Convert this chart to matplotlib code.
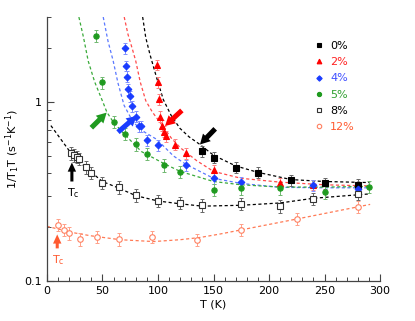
import matplotlib
matplotlib.use("Agg")
import matplotlib.pyplot as plt
from matplotlib.lines import Line2D
from matplotlib.ticker import FixedLocator, NullFormatter, FixedFormatter

plt.rcParams['font.family'] = ['DejaVu Sans']
plt.rcParams['mathtext.default'] = 'regular'

# ---------------- data ----------------
labels = ["0%", "2%", "4%", "5%", "8%", "12%"]

T0 = [140, 150, 170, 190, 220, 250, 280]
y0 = [0.533, 0.489, 0.43, 0.403, 0.365, 0.351, 0.346]

T2 = [99.5, 100, 100.5, 102, 104, 105.5, 107, 115, 125, 150, 210, 240]
y2 = [1.62, 1.30, 1.04, 0.83, 0.74, 0.685, 0.647, 0.58, 0.52, 0.417, 0.354, 0.345]

T4 = [70, 71, 72, 73, 75, 77, 80, 83, 85, 90, 100, 125, 150, 175, 240, 280]
y4 = [2.0, 1.6, 1.39, 1.18, 1.08, 0.95, 0.83, 0.735, 0.735, 0.615, 0.575, 0.444,
      0.377, 0.357, 0.343, 0.325]

T5 = [44, 50, 60, 70, 80, 90, 105, 120, 150, 175, 210, 250, 290]
y5 = [2.36, 1.29, 0.778, 0.667, 0.583, 0.515, 0.444, 0.408, 0.323, 0.33, 0.33, 0.313, 0.336]

T8 = [22, 24.5, 27, 29, 35, 40, 50, 65, 80, 100, 120, 140, 175, 210, 240, 280]
y8 = [0.517, 0.505, 0.495, 0.483, 0.433, 0.403, 0.355, 0.335, 0.302, 0.28, 0.273,
      0.265, 0.27, 0.262, 0.289, 0.307]

T12 = [10, 15, 20, 30, 45, 65, 95, 135, 175, 225, 280]
y12 = [0.206, 0.193, 0.185, 0.171, 0.176, 0.171, 0.176, 0.17, 0.193, 0.223, 0.26]

err_frac = [0.07, 0.07, 0.07, 0.08, 0.08, 0.08]

# fit curves
fT0 = [86.2, 89, 92.8, 98.8, 104.8, 112, 119.8, 128, 137.8, 150, 170, 190, 220, 250, 291]
fy0 = [3.0, 2.3, 1.85, 1.37, 1.035, 0.84, 0.714, 0.64, 0.58, 0.505, 0.44, 0.405, 0.369, 0.36, 0.355]

fT2 = [69.6, 73, 77, 80, 84, 89, 95, 104, 112, 120, 135, 150, 175, 210, 250, 291]
fy2 = [3.0, 2.4, 1.98, 1.70, 1.30, 1.02, 0.88, 0.74, 0.63, 0.557, 0.47, 0.41, 0.375, 0.357, 0.345, 0.34]

fT4 = [50.7, 55, 59.7, 64, 69.5, 75, 80, 88, 98.8, 114, 125, 150, 175, 210, 250, 291]
fy4 = [3.0, 2.2, 1.70, 1.28, 0.96, 0.83, 0.75, 0.68, 0.62, 0.50, 0.45, 0.375, 0.351, 0.334, 0.332, 0.332]

fT5 = [28.8, 33, 37.2, 43, 50.2, 54, 60, 70, 85, 105, 120, 150, 175, 210, 250, 291]
fy5 = [3.0, 2.3, 1.70, 1.3, 1.01, 0.88, 0.77, 0.66, 0.53, 0.455, 0.41, 0.36, 0.345, 0.335, 0.335, 0.338]

fT8 = [3.6, 12.6, 21.6, 35, 50, 65, 80, 100, 120, 140, 175, 210, 240, 291]
fy8 = [0.74, 0.62, 0.52, 0.43, 0.36, 0.33, 0.30, 0.28, 0.27, 0.262, 0.265, 0.273, 0.29, 0.307]

fT12 = [0, 24, 39, 66, 96, 120, 138, 156, 175, 225, 291]
fy12 = [0.202, 0.186, 0.179, 0.17, 0.166, 0.17, 0.175, 0.183, 0.193, 0.222, 0.268]

# ---------------- styles ----------------
mcol = ['black', '#ff0000', '#1a3cff', '#1f9a1f', '#333333', '#ff8060']
ecol = ['#666666', '#ff8080', '#8090ff', '#70b870', '#666666', '#ffa088']
lcol = ['black', '#ff4a4a', '#5a78ff', '#3aaa3a', 'black', '#ff7a55']
tcol = ['black', '#ff2020', '#4050ff', '#30a030', 'black', '#ff5a30']
markers = ['s', '^', 'D', 'o', 's', 'o']
msize = [3.8, 4.2, 3.4, 3.8, 4.0, 4.0]
filled = [True, True, True, True, False, False]

series = [(T0, y0), (T2, y2), (T4, y4), (T5, y5), (T8, y8), (T12, y12)]
fits = [(fT0, fy0), (fT2, fy2), (fT4, fy4), (fT5, fy5), (fT8, fy8), (fT12, fy12)]

fig = plt.figure(figsize=(4.15, 3.21), dpi=100)
ax = fig.add_axes([0.113, 0.125, 0.803, 0.822])

for i, ((fx, fy), (x, y)) in enumerate(zip(fits, series)):
    ax.plot(fx, fy, ls=(0, (2.5, 2)), color=lcol[i], lw=0.9, zorder=2)

for i, (x, y) in enumerate(series):
    yerr = [v * err_frac[i] for v in y]
    ax.errorbar(x, y, yerr=yerr, fmt='none', ecolor=ecol[i], elinewidth=0.7,
                capsize=1.6, capthick=0.7, zorder=3)
    ax.plot(x, y, ls='none', marker=markers[i], ms=msize[i],
            mfc=mcol[i] if filled[i] else 'white', mec=mcol[i],
            mew=0.8, zorder=4)

ax.set_yscale('log')
ax.set_xlim(0, 300)
ax.set_ylim(0.1, 3.0)

ax.yaxis.set_major_locator(FixedLocator([0.1, 1]))
ax.yaxis.set_major_formatter(FixedFormatter(['0.1', '1']))
ax.yaxis.set_minor_locator(FixedLocator([0.2, 0.3, 0.4, 0.5, 0.6, 0.7, 0.8, 0.9, 2, 3]))
ax.yaxis.set_minor_formatter(NullFormatter())
ax.set_xticks(range(0, 301, 50))
ax.set_xticks(range(0, 301, 10), minor=True)

for s in ['top', 'right']:
    ax.spines[s].set_visible(False)
for s in ['left', 'bottom']:
    ax.spines[s].set_color('#444444')
    ax.spines[s].set_linewidth(0.9)
ax.tick_params(which='both', direction='in', color='#444444', labelsize=8)
ax.tick_params(which='major', length=5, width=0.8)
ax.tick_params(which='minor', length=3, width=0.7)

ax.set_xlabel('T (K)', fontsize=8, labelpad=3)
ax.set_ylabel('1/T$_1$T (s$^{-1}$K$^{-1}$)', fontsize=8, labelpad=2)

# arrows marking T*
arrows = [((151.5, 0.71), (137.8, 0.58), 'black'),
          ((121.5, 0.90), (106.3, 0.736), '#ff0000'),
          ((64.0, 0.68), (80.8, 0.838), '#1a3cff'),
          ((40.0, 0.72), (53.8, 0.875), '#1f9a1f')]
style = 'simple,head_length=0.55,head_width=0.6,tail_width=0.28'
for tail, tip, c in arrows:
    ax.annotate('', xy=tip, xytext=tail,
                arrowprops=dict(arrowstyle=style, color=c, lw=0,
                                shrinkA=0, shrinkB=0, mutation_scale=13), zorder=5)

# Tc arrows
tcstyle = 'simple,head_length=0.6,head_width=0.55,tail_width=0.2'
ax.annotate('', xy=(22.5, 0.46), xytext=(22.5, 0.36),
            arrowprops=dict(arrowstyle=tcstyle, color='black', lw=0,
                            shrinkA=0, shrinkB=0, mutation_scale=11))
ax.text(24, 0.34, 'T$_c$', fontsize=8, ha='center', va='top', color='black')
ax.annotate('', xy=(9.3, 0.182), xytext=(9.3, 0.152),
            arrowprops=dict(arrowstyle=tcstyle, color='#ff5a30', lw=0,
                            shrinkA=0, shrinkB=0, mutation_scale=11))
ax.text(10.5, 0.142, 'T$_c$', fontsize=8, ha='center', va='top', color='#ff5a30')

# legend
handles = [Line2D([], [], ls='none', marker=markers[i], ms=msize[i] * 0.8,
                  mfc=mcol[i] if filled[i] else 'white', mec=mcol[i], mew=0.8)
           for i in range(6)]
leg = ax.legend(handles, labels, loc='upper left', bbox_to_anchor=(0.79, 0.925),
                frameon=False, fontsize=8, handlelength=0.8, handletextpad=0.6,
                labelspacing=0.55, borderaxespad=0)
for t, c in zip(leg.get_texts(), tcol):
    t.set_color(c)

fig.savefig('out.png', dpi=100)
